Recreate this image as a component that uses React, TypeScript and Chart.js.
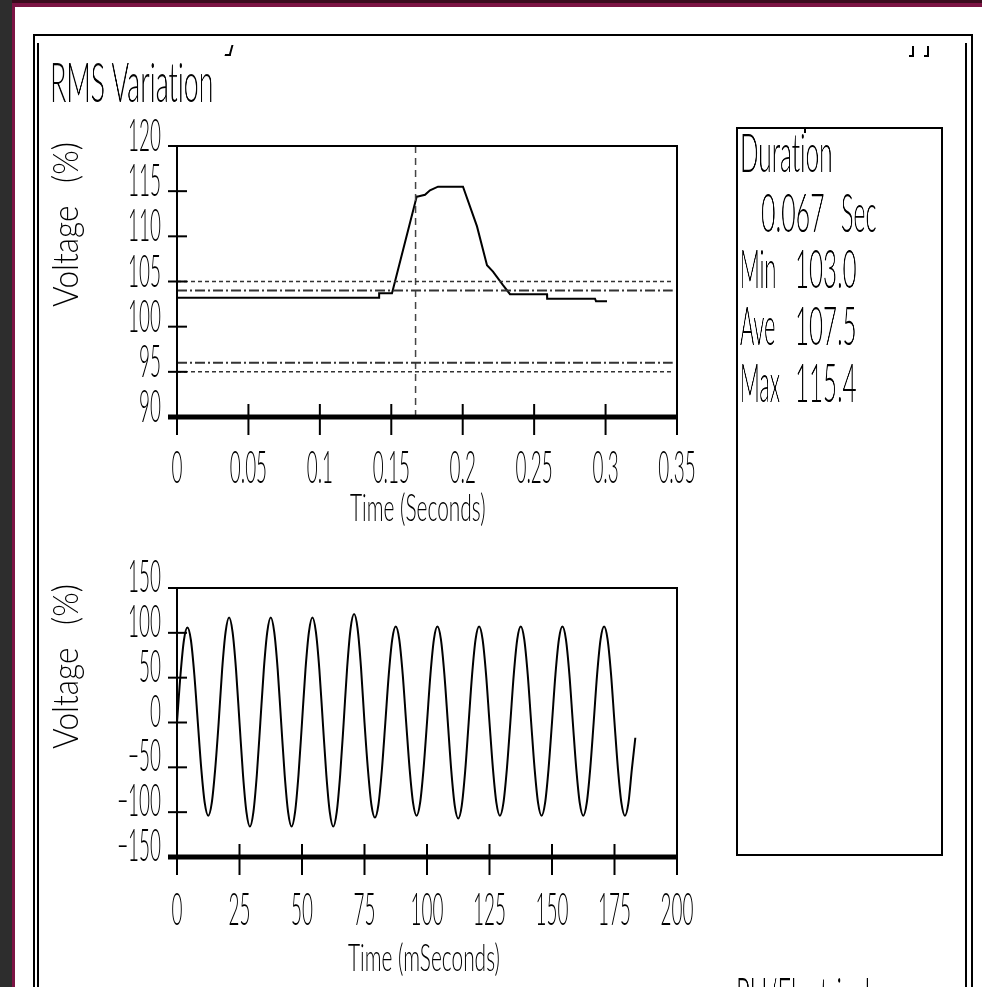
import React, { useEffect, useRef } from 'react';
import { Chart, registerables } from 'chart.js';

Chart.register(...registerables);

const FONT = 'Lato, "Liberation Sans", Arial, sans-serif';
const WEIGHT = 300;

// ---------- RMS variation (top panel) ----------
const RMS_TIME_S = [0, 0.1414, 0.1415, 0.1505, 0.1678, 0.1687, 0.1736, 0.1771, 0.1827, 0.2002, 0.21, 0.217, 0.2212, 0.2282, 0.2331, 0.259, 0.2591, 0.2926, 0.2933, 0.301];
const RMS_PERCENT = [103.2, 103.2, 103.7, 103.7, 114.4, 114.4, 114.6, 115.1, 115.5, 115.5, 111.1, 106.8, 106.1, 104.6, 103.6, 103.6, 103.1, 103.1, 102.8, 102.8];
const RMS_X_TICKS = [0, 0.05, 0.1, 0.15, 0.2, 0.25, 0.3, 0.35];
const RMS_X_LABELS = ['0', '0.05', '0.1', '0.15', '0.2', '0.25', '0.3', '0.35'];
const RMS_Y_TICKS = [90, 95, 100, 105, 110, 115, 120];
const RMS_Y_LABELS = ['90', '95', '100', '105', '110', '115', '120'];
const LIMIT_DASHED = [105, 95];
const LIMIT_DASHDOT = [104, 96];
const LIMIT_SPAN_S = [0, 0.347];
const TRIGGER_TIME_S = 0.167;

// ---------- waveform (bottom panel) ----------
const WAVE_SAMPLE_MS = 1000 / 720;
const WAVE_PERCENT = [
  0, 53, 92, 106, 92, 53, 0, -52, -90, -104, -90, -52,
  0, 59, 101, 117, 101, 59, 0, -58, -100, -116, -100, -58,
  0, 59, 101, 117, 101, 59, 0, -58, -100, -116, -100, -58,
  0, 59, 101, 117, 101, 59, 0, -58, -100, -116, -100, -58,
  0, 61, 105, 121, 105, 61, 0, -53, -92, -106, -92, -53,
  0, 54, 93, 107, 93, 54, 0, -52, -90, -104, -90, -52,
  0, 54, 93, 107, 93, 54, 0, -54, -93, -107, -93, -54,
  0, 54, 93, 107, 93, 54, 0, -52, -90, -104, -90, -52,
  0, 54, 93, 107, 93, 54, 0, -52, -90, -104, -90, -52,
  0, 54, 93, 107, 93, 54, 0, -52, -90, -104, -90, -52,
  0, 54, 93, 107, 93, 54, 0, -52, -90, -104, -90, -52,
  -17,
];
const WAVE_X_TICKS = [0, 25, 50, 75, 100, 125, 150, 175, 200];
const WAVE_X_LABELS = ['0', '25', '50', '75', '100', '125', '150', '175', '200'];
const WAVE_Y_TICKS = [-150, -100, -50, 0, 50, 100, 150];
const WAVE_Y_LABELS = ['\u2212150', '\u2212100', '\u221250', '0', '50', '100', '150'];

// ---------- summary box ----------
const SUMMARY_TITLE = 'Duration';
const SUMMARY_DURATION = ['0.067', 'Sec'];
const SUMMARY_ROWS = [['Min', '103.0'], ['Ave', '107.5'], ['Max', '115.4']];

type Panel = {
  xTicks: number[]; xLabels: string[];
  yTicks: number[]; yLabels: string[];
  xLabelDrop: number; yLabelDrop: number;
  xTitle: string; xTitleLeft: number; xTitleDrop: number;
};

function scaledText(ctx: any, text: string, x: number, y: number, sx: number, align: string) {
  ctx.save();
  ctx.translate(x, y);
  ctx.scale(sx, 1);
  ctx.textAlign = align;
  ctx.fillText(text, 0, 0);
  ctx.restore();
}

function panelPlugin(p: Panel) {
  return {
    id: 'retroPanel',
    afterDatasetsDraw(chart: any) {
      const { ctx, chartArea: a, scales } = chart;
      const xs = scales.x;
      const ys = scales.y;
      const seg = (x1: number, y1: number, x2: number, y2: number, w: number) => {
        ctx.lineWidth = w;
        ctx.beginPath();
        ctx.moveTo(x1, y1);
        ctx.lineTo(x2, y2);
        ctx.stroke();
      };
      ctx.save();
      ctx.strokeStyle = '#000';
      ctx.setLineDash([]);
      ctx.lineCap = 'butt';
      seg(a.left - 9, a.top, a.right + 1, a.top, 2);
      seg(a.left, a.top, a.left, a.bottom + 18, 2);
      seg(a.right, a.top - 1, a.right, a.bottom + 18, 2);
      p.yTicks.forEach((v) => {
        const y = ys.getPixelForValue(v);
        seg(a.left - 9, y, a.left + 10, y, 2);
      });
      p.xTicks.forEach((v) => {
        const x = xs.getPixelForValue(v);
        seg(x, a.bottom - 13, x, a.bottom + 18, 2);
      });
      seg(a.left - 9, a.bottom, a.right + 1, a.bottom, 5);

      ctx.fillStyle = '#000';
      ctx.textBaseline = 'alphabetic';
      ctx.font = `${WEIGHT} 45px ${FONT}`;
      p.yTicks.forEach((v, i) => {
        scaledText(ctx, p.yLabels[i], a.left - 16, ys.getPixelForValue(v) + p.yLabelDrop, 0.42, 'right');
      });
      p.xTicks.forEach((v, i) => {
        scaledText(ctx, p.xLabels[i], xs.getPixelForValue(v), a.bottom + p.xLabelDrop, 0.42, 'center');
      });
      ctx.font = `${WEIGHT} 38px ${FONT}`;
      scaledText(ctx, p.xTitle, p.xTitleLeft, a.bottom + p.xTitleDrop, 0.55, 'left');

      // rotated axis title
      ctx.font = `${WEIGHT} 35px ${FONT}`;
      ctx.save();
      ctx.translate(78, a.top + 161);
      ctx.rotate(-Math.PI / 2);
      ctx.scale(0.9, 1);
      ctx.textAlign = 'left';
      ctx.fillText('Voltage', 0, 0);
      ctx.restore();
      ctx.save();
      ctx.translate(78, a.top + 37);
      ctx.rotate(-Math.PI / 2);
      ctx.scale(0.9, 1);
      ctx.textAlign = 'left';
      ctx.fillText('(%)', 0, 0);
      ctx.restore();
      ctx.restore();
    },
  };
}

function hLine(v: number, dash: number[], width: number) {
  return {
    data: LIMIT_SPAN_S.map((t) => ({ x: t, y: v })),
    borderColor: '#333',
    borderWidth: width,
    borderDash: dash,
    pointRadius: 0,
    fill: false,
  };
}

function topConfig(): any {
  return {
    type: 'line',
    data: {
      datasets: [
        ...LIMIT_DASHED.map((v) => hLine(v, [4, 3], 1.5)),
        ...LIMIT_DASHDOT.map((v) => hLine(v, [10, 3, 2, 3], 2)),
        {
          data: [{ x: TRIGGER_TIME_S, y: 90 }, { x: TRIGGER_TIME_S, y: 120 }],
          borderColor: '#444',
          borderWidth: 1.5,
          borderDash: [7, 5],
          pointRadius: 0,
        },
        {
          data: RMS_TIME_S.map((t, i) => ({ x: t, y: RMS_PERCENT[i] })),
          borderColor: '#000',
          borderWidth: 2,
          pointRadius: 0,
          tension: 0,
        },
      ],
    },
    options: {
      animation: false,
      responsive: false,
      events: [],
      layout: { padding: { left: 177, top: 146, right: 305, bottom: 123 } },
      plugins: { legend: { display: false }, tooltip: { enabled: false }, title: { display: false } },
      scales: {
        x: { type: 'linear', min: 0, max: 0.35, display: false },
        y: { type: 'linear', min: 90, max: 120, display: false },
      },
    },
    plugins: [
      panelPlugin({
        xTicks: RMS_X_TICKS, xLabels: RMS_X_LABELS,
        yTicks: RMS_Y_TICKS, yLabels: RMS_Y_LABELS,
        xLabelDrop: 66, yLabelDrop: 5,
        xTitle: 'Time (Seconds)', xTitleLeft: 350, xTitleDrop: 104,
      }),
    ],
  };
}

function bottomConfig(): any {
  return {
    type: 'line',
    data: {
      datasets: [
        {
          data: WAVE_PERCENT.map((v, i) => ({ x: i * WAVE_SAMPLE_MS, y: v })),
          borderColor: '#000',
          borderWidth: 2,
          pointRadius: 0,
          cubicInterpolationMode: 'monotone',
        },
      ],
    },
    options: {
      animation: false,
      responsive: false,
      events: [],
      layout: { padding: { left: 177, top: 48, right: 305, bottom: 130 } },
      plugins: { legend: { display: false }, tooltip: { enabled: false }, title: { display: false } },
      scales: {
        x: { type: 'linear', min: 0, max: 200, display: false },
        y: { type: 'linear', min: -150, max: 150, display: false },
      },
    },
    plugins: [
      panelPlugin({
        xTicks: WAVE_X_TICKS, xLabels: WAVE_X_LABELS,
        yTicks: WAVE_Y_TICKS, yLabels: WAVE_Y_LABELS,
        xLabelDrop: 68, yLabelDrop: 4,
        xTitle: 'Time (mSeconds)', xTitleLeft: 348, xTitleDrop: 114,
      }),
    ],
  };
}

function Txt({ x, base, size, sx, text }: { x: number; base: number; size: number; sx: number; text: string }) {
  return (
    <div
      style={{
        position: 'absolute',
        left: x,
        top: base - 0.887 * size,
        fontFamily: FONT,
        fontWeight: WEIGHT,
        fontSize: size,
        lineHeight: `${size}px`,
        whiteSpace: 'pre',
        color: '#000',
        fontVariantLigatures: 'none',
        fontFeatureSettings: '"liga" 0, "clig" 0',
        transform: `scaleX(${sx})`,
        transformOrigin: '0 0',
        willChange: 'transform',
        filter: 'grayscale(1)',
      }}
    >
      {text}
    </div>
  );
}

function Box(props: { l: number; t: number; w: number; h: number; bg: string }) {
  return <div style={{ position: 'absolute', left: props.l, top: props.t, width: props.w, height: props.h, background: props.bg }} />;
}

export default function App() {
  const topRef = useRef<HTMLCanvasElement>(null);
  const botRef = useRef<HTMLCanvasElement>(null);

  useEffect(() => {
    const c1 = new Chart(topRef.current as HTMLCanvasElement, topConfig());
    const c2 = new Chart(botRef.current as HTMLCanvasElement, bottomConfig());
    return () => {
      c1.destroy();
      c2.destroy();
    };
  }, []);

  const rowBase = [288, 345, 402];

  return (
    <div style={{ position: 'absolute', left: 0, top: 0, width: 982, height: 987, overflow: 'hidden', background: '#fff' }}>
      {/* window edges */}
      <Box l={0} t={0} w={12} h={987} bg="#2d2d2d" />
      <Box l={12} t={0} w={3} h={987} bg="#7c1444" />
      <Box l={12} t={0} w={970} h={3} bg="#3a0c1e" />
      <Box l={12} t={3} w={970} h={4} bg="#7c1444" />
      {/* report frame */}
      <Box l={33} t={34} w={940} h={2} bg="#000" />
      <Box l={33} t={34} w={2} h={960} bg="#000" />
      <Box l={971} t={34} w={2} h={960} bg="#000" />
      <Box l={37} t={43} w={2} h={960} bg="#000" />
      <Box l={965} t={43} w={2} h={960} bg="#000" />
      {/* stray marks */}
      <div style={{ position: 'absolute', left: 226, top: 45, width: 4, height: 9, borderRight: '2px solid #000', borderBottom: '2px solid #000', transform: 'skewX(-15deg)' }} />
      <div style={{ position: 'absolute', left: 909, top: 46, width: 3, height: 9, borderRight: '2px solid #000', borderBottom: '2px solid #000' }} />
      <div style={{ position: 'absolute', left: 924, top: 46, width: 3, height: 9, borderRight: '2px solid #000', borderBottom: '2px solid #000' }} />

      <Txt x={50} base={103} size={56} sx={0.48} text="RMS Variation" />

      {/* summary box */}
      <div style={{ position: 'absolute', left: 736, top: 127, width: 207, height: 729, border: '2px solid #000', boxSizing: 'border-box' }} />
      <Box l={804} t={128} w={2} h={5} bg="#000" />
      <Txt x={740} base={172} size={53} sx={0.46} text={SUMMARY_TITLE} />
      <Txt x={761} base={232} size={53} sx={0.47} text={SUMMARY_DURATION[0]} />
      <Txt x={841} base={232} size={53} sx={0.44} text={SUMMARY_DURATION[1]} />
      {SUMMARY_ROWS.map((r, i) => (
        <React.Fragment key={r[0]}>
          <Txt x={740} base={rowBase[i]} size={53} sx={0.41} text={r[0]} />
          <Txt x={795} base={rowBase[i]} size={53} sx={0.455} text={r[1]} />
        </React.Fragment>
      ))}
      <Txt x={736} base={1016} size={53} sx={0.45} text="PU/Electrical" />

      <canvas ref={topRef} width={982} height={540} style={{ position: 'absolute', left: 0, top: 0, width: 982, height: 540 }} />
      <canvas ref={botRef} width={982} height={447} style={{ position: 'absolute', left: 0, top: 540, width: 982, height: 447 }} />
    </div>
  );
}
